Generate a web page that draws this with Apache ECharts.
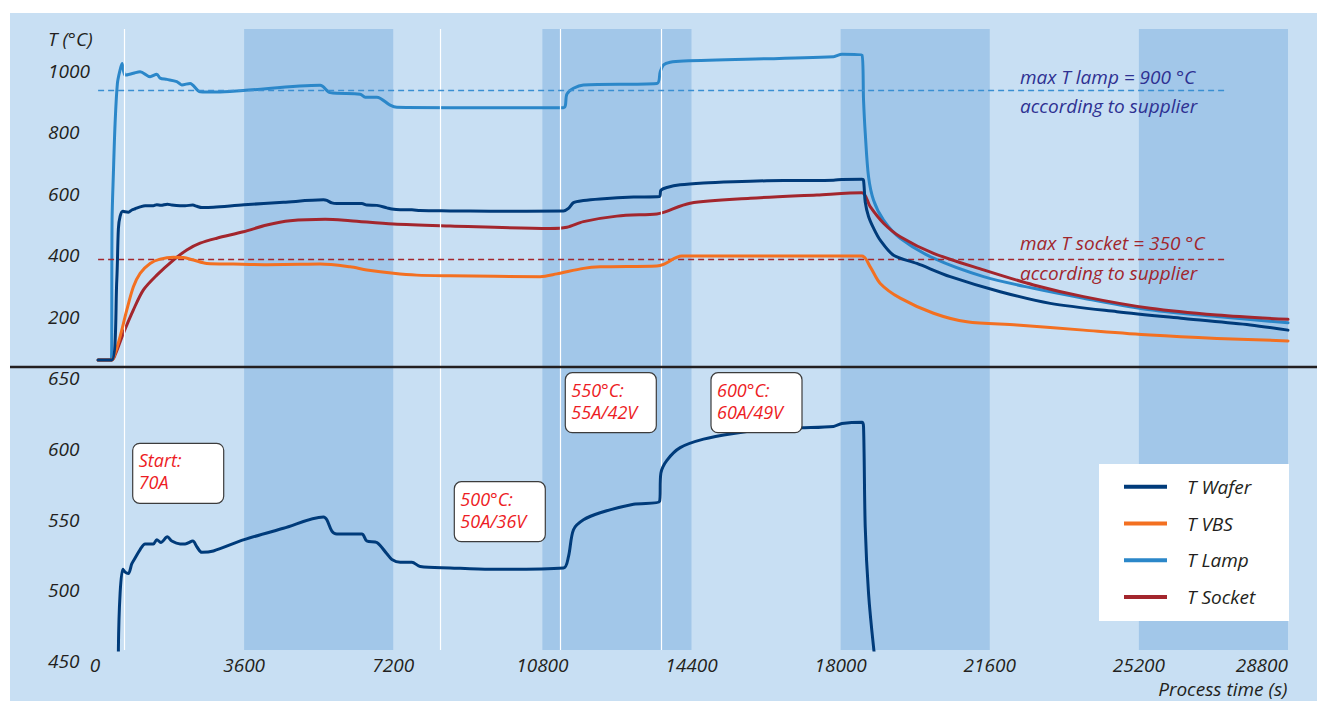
<!DOCTYPE html>
<html>
<head>
<meta charset="utf-8">
<script src="https://cdn.jsdelivr.net/npm/echarts@6/dist/echarts.min.js"></script>
<style>
  html, body { margin: 0; padding: 0; background: #ffffff; }
  #wrap { position: relative; width: 1317px; height: 701px; background: #ffffff; overflow: hidden; }
  #panel { position: absolute; left: 10px; top: 13px; right: 0; bottom: 0; background: #C8DFF3; }
  #chart { position: absolute; left: 0; top: 0; width: 1317px; height: 701px; }
</style>
</head>
<body>
<div id="wrap"><div id="panel"></div><div id="chart"></div></div>
<script>
// Process time axis (s)
const X_MAX = 28800;
const X_STEP = 3600;

// Alternating shaded time windows (s)
const shadedBands = [[3600, 7200], [10800, 14400], [18000, 21600], [25200, 28800]];
// Set-point changes (s)
const stepMarks = [703, 8330, 11240, 13680];

// Supplier limits (°C)
const lampLimit = 900;
const socketLimit = 350;

// Measured temperatures: [time s, T °C]
const tWafer = [
  [75, 23], [405, 23], [526, 283], [565, 451], [606, 490], [671, 507], [727, 505], [806, 504],
  [889, 511], [968, 515], [1089, 521], [1210, 525], [1410, 525], [1492, 528], [1589, 526],
  [1748, 530], [1854, 527], [2055, 525], [2175, 525], [2361, 527], [2458, 523], [2579, 519],
  [2859, 520], [3600, 528], [4549, 536], [5515, 544], [5597, 542], [5718, 534], [5838, 532],
  [6442, 532], [6563, 527], [6804, 526], [7046, 518], [7166, 514], [7367, 512], [7649, 512],
  [7850, 509], [8574, 508], [9540, 507], [11310, 508], [11430, 516], [11551, 535], [11792, 542],
  [12195, 547], [13000, 553], [13628, 555], [13661, 575], [13806, 584], [14127, 593], [14690, 599],
  [15414, 603], [16221, 606], [17025, 607], [17829, 608], [18032, 610], [18515, 611], [18553, 608],
  [18594, 537], [18674, 490], [18795, 452], [18956, 413], [19278, 364], [19841, 337], [20646, 294],
  [21853, 245], [23060, 207], [24670, 180], [26280, 158], [27890, 137], [28800, 120]
];
const tVBS = [
  [75, 23], [405, 23], [485, 45], [606, 99], [768, 186], [927, 261], [1089, 305], [1330, 337],
  [1572, 351], [1893, 357], [2134, 356], [2376, 348], [2700, 337], [3342, 335], [4148, 333],
  [4952, 334], [5435, 335], [6159, 326], [6562, 316], [7205, 305], [7770, 299], [8574, 297],
  [10745, 294], [11148, 303], [11792, 321], [12195, 326], [13565, 329], [13724, 334], [14168, 361],
  [18515, 361], [18714, 326], [18956, 272], [19439, 224], [20243, 175], [21048, 147], [22255, 137],
  [23864, 120], [25474, 104], [27084, 93], [28800, 85]
];
const tLamp = [
  [75, 23], [395, 23], [412, 478], [444, 630], [485, 793], [541, 923], [606, 967], [654, 988],
  [727, 950], [927, 956], [1089, 961], [1330, 945], [1492, 953], [1572, 940], [1734, 936],
  [1975, 929], [2096, 918], [2296, 923], [2538, 896], [2941, 895], [3576, 900], [5435, 917],
  [5677, 893], [6401, 888], [6522, 878], [6804, 878], [7125, 852], [7287, 845], [8574, 844],
  [11310, 844], [11392, 888], [11551, 907], [11792, 918], [13565, 923], [13645, 961], [13724, 983],
  [13885, 992], [14207, 996], [17829, 1010], [18032, 1018], [18515, 1015], [18553, 869], [18594, 762],
  [18674, 619], [18795, 543], [19036, 478], [19439, 419], [20243, 354], [21450, 294], [22657, 256],
  [23864, 224], [25474, 186], [27084, 164], [28800, 144]
];
const tSocket = [
  [75, 23], [405, 23], [485, 39], [686, 110], [927, 186], [1169, 251], [1492, 299], [1893, 348],
  [2216, 381], [2538, 403], [2941, 419], [3583, 440], [4148, 462], [4711, 476], [5556, 481],
  [6159, 476], [7205, 465], [8574, 459], [10987, 451], [11392, 455], [11792, 473], [12598, 491],
  [13565, 498], [13724, 503], [14368, 533], [15817, 549], [17427, 560], [18515, 567], [18714, 522],
  [19036, 468], [19439, 424], [20243, 370], [21450, 316], [22657, 267], [23864, 229], [25474, 191],
  [27084, 169], [28800, 155]
];

// Legend entries and annotation texts
const seriesNames = ['T Wafer', 'T VBS', 'T Lamp', 'T Socket'];
const notes = [
  ['Start:', '70A'],
  ['500°C:', '50A/36V'],
  ['550°C:', '55A/42V'],
  ['600°C:', '60A/49V']
];
const limitNotes = [
  ['max T lamp = 900 °C', 'according to supplier'],
  ['max T socket = 350 °C', 'according to supplier']
];

const FONT = '"Open Sans", "Noto Sans", "DejaVu Sans", sans-serif';
const INK = '#231F20';
const COLORS = { wafer: '#003B7A', vbs: '#F37021', lamp: '#2B87C9', socket: '#A3262D' };
const BAND = '#A2C7E9';

const chart = echarts.init(document.getElementById('chart'), null, { renderer: 'svg' });

const labelFont = { color: INK, fontSize: 19, fontStyle: 'italic', fontFamily: FONT };

function bandAreas() {
  return shadedBands.map(b => [{ xAxis: b[0] }, { xAxis: b[1] }]);
}
function stepLines() {
  return stepMarks.map(s => ({ xAxis: s }));
}
function helperSeries(gi, extraLines) {
  return {
    type: 'line', xAxisIndex: gi, yAxisIndex: gi, data: [], z: 1, silent: true,
    markArea: {
      silent: true, itemStyle: { color: BAND }, label: { show: false },
      emphasis: { disabled: true }, data: bandAreas()
    },
    markLine: {
      silent: true, symbol: ['none', 'none'], label: { show: false },
      emphasis: { disabled: true },
      lineStyle: { color: '#ffffff', width: 1.2, type: 'solid' },
      data: stepLines().concat(extraLines || [])
    }
  };
}
function limitLine(value, color) {
  return [
    { coord: [75, value], lineStyle: { color: color, width: 1.3, type: [6, 4] } },
    { coord: [27300, value] }
  ];
}
function tempSeries(name, data, color, gi, z) {
  return {
    name: name, type: 'line', xAxisIndex: gi, yAxisIndex: gi, data: data,
    showSymbol: false, symbol: 'none', smooth: 0.3,
    lineStyle: { color: color, width: 3, join: 'round', cap: 'round' }, itemStyle: { color: color },
    z: z, silent: true, clip: true
  };
}

// Annotation boxes: one text element per line
const boxes = [[132.7, 443.3], [454.3, 481.7], [565.3, 372.7], [711, 372.7]];
const noteGraphics = notes.map((lines, i) => ({
  type: 'group', x: boxes[i][0], y: boxes[i][1], z: 20,
  children: [
    { type: 'rect', shape: { x: 0, y: 0, width: 91, height: 60, r: 7 },
      style: { fill: '#ffffff', stroke: '#3C3C3C', lineWidth: 1.2 }, z: 20 }
  ].concat(lines.map((str, k) => ({
    type: 'text', x: 6, y: 17 + k * 22, z: 21,
    style: { text: str, fill: '#ED1C24', font: 'italic 18px ' + FONT,
             verticalAlign: 'middle', align: 'left' }
  })))
}));

function textEl(x, y, str, color, align) {
  return { type: 'text', x: x, y: y, z: 20, silent: true,
    style: { text: str, fill: color, font: 'italic 19px ' + FONT, align: align || 'left', verticalAlign: 'middle' } };
}

const option = {
  animation: false,
  backgroundColor: 'transparent',
  textStyle: { fontFamily: FONT },
  grid: [
    { left: 95, right: 29, top: 29, height: 338 },
    { left: 95, right: 29, top: 367, height: 283 }
  ],
  xAxis: [0, 1].map(i => ({
    type: 'value', gridIndex: i, min: 0, max: X_MAX, interval: X_STEP,
    axisLine: { show: false }, axisTick: { show: false }, splitLine: { show: false },
    axisLabel: i === 0 ? { show: false } :
      Object.assign({ show: true, margin: 5, lineHeight: 19, alignMaxLabel: 'right',
        formatter: v => String(v) }, labelFont)
  })),
  yAxis: [
    { type: 'value', gridIndex: 0, min: 0, max: 1100, interval: 200,
      axisLine: { show: false }, axisTick: { show: false }, splitLine: { show: false },
      axisLabel: Object.assign({ align: 'left', margin: 47, verticalAlign: 'top', lineHeight: 22,
        formatter: v => (v <= 0 || v > 1000) ? '' : String(v) }, labelFont) },
    { type: 'value', gridIndex: 1, min: 450, max: 650, interval: 50,
      axisLine: { show: false }, axisTick: { show: false }, splitLine: { show: false },
      axisLabel: Object.assign({ align: 'left', margin: 47, verticalAlign: 'top', lineHeight: 22,
        formatter: v => String(v) }, labelFont) }
  ],
  legend: {
    data: seriesNames, orient: 'vertical', left: 1124, top: 476.7, padding: 0,
    itemWidth: 43, itemHeight: 4, itemGap: 16.8, icon: 'rect', z: 10,
    selectedMode: false,
    textStyle: Object.assign({ lineHeight: 20, padding: [0, 0, 0, 15] }, labelFont)
  },
  series: [
    helperSeries(0, [limitLine(lampLimit, '#3A8FD2'), limitLine(socketLimit, '#A3262D')]),
    helperSeries(1),
    tempSeries('T Lamp', tLamp, COLORS.lamp, 0, 3),
    tempSeries('T Socket', tSocket, COLORS.socket, 0, 4),
    tempSeries('T VBS', tVBS, COLORS.vbs, 0, 5),
    tempSeries('T Wafer', tWafer, COLORS.wafer, 0, 6),
    tempSeries('T Wafer', tWafer, COLORS.wafer, 1, 6)
  ],
  graphic: {
    elements: [
      { type: 'rect', shape: { x: 1099, y: 464, width: 190, height: 157 },
        style: { fill: '#ffffff' }, z: 5, silent: true },
      { type: 'line', shape: { x1: 10, y1: 367, x2: 1317, y2: 367 },
        style: { stroke: '#231F20', lineWidth: 2.5 }, z: 20, silent: true },
      textEl(48, 39, 'T (°C)', INK),
      textEl(1287.5, 689, 'Process time (s)', INK, 'right'),
      textEl(1020, 76.7, limitNotes[0][0], '#2E3192'),
      textEl(1020, 106, limitNotes[0][1], '#2E3192'),
      textEl(1020, 243.3, limitNotes[1][0], '#A1262C'),
      textEl(1020, 272.7, limitNotes[1][1], '#A1262C')
    ].concat(noteGraphics)
  }
};

chart.setOption(option);
</script>
</body>
</html>
